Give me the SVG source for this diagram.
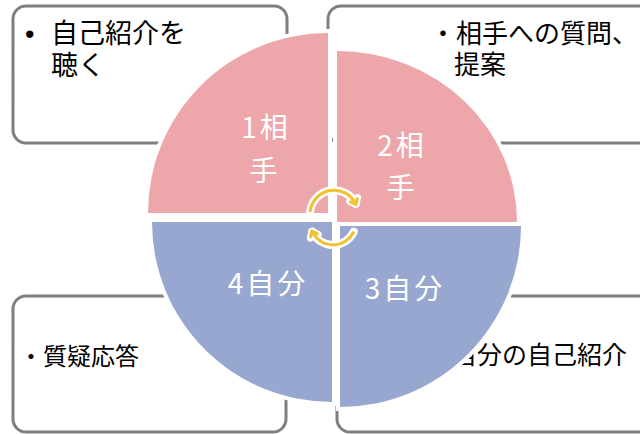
<svg xmlns="http://www.w3.org/2000/svg" width="640" height="434" viewBox="0 0 640 434">
<style>
.box{fill:#fff;stroke:#7f7f7f;stroke-width:3}
.bt{font-family:"Liberation Sans","Noto Sans CJK JP",sans-serif;fill:#000}
.qt{font-family:"Noto Sans CJK JP","Noto Sans",sans-serif;fill:#fff;font-size:28px;letter-spacing:3px;text-anchor:middle}
.pink{fill:#eda7aa;stroke:#fff;stroke-width:8;paint-order:stroke}
.blue{fill:#97a7cf;stroke:#fff;stroke-width:8;paint-order:stroke}
.halo{fill:none;stroke:#fff;stroke-width:8;stroke-linecap:round}
.arc{fill:none;stroke:#f2c12e;stroke-width:3}
</style>
<defs>
<marker id="ah" markerUnits="userSpaceOnUse" viewBox="0 0 12 12" refX="7" refY="6" markerWidth="12" markerHeight="12" orient="auto">
<path d="M2,1.5 L7.5,6 L2,10.5" fill="none" stroke="#f2c12e" stroke-width="3"/>
</marker>
<marker id="ahh" markerUnits="userSpaceOnUse" viewBox="0 0 16 16" refX="9" refY="8" markerWidth="16" markerHeight="16" orient="auto">
<path d="M4,3.5 L9.5,8 L4,12.5" fill="none" stroke="#fff" stroke-width="7" stroke-linejoin="round" stroke-linecap="round"/>
</marker>
</defs>
<rect x="0" y="0" width="640" height="434" fill="#fff"/>
<g id="box-tl">
<rect class="box" x="13" y="6" width="274" height="137" rx="13"/>
<text class="bt" font-size="27"><tspan x="25" y="43">•</tspan><tspan x="51" y="43">自己紹介を</tspan><tspan x="51" y="75">聴く</tspan></text>
</g>
<g id="box-tr">
<rect class="box" x="328" y="6" width="330" height="137" rx="13"/>
<text class="bt" font-size="26"><tspan x="430" y="43">・相手への質問、</tspan><tspan x="454" y="74">提案</tspan></text>
</g>
<g id="box-bl">
<rect class="box" x="13" y="296" width="273" height="136" rx="13"/>
<text class="bt" x="19" y="365" font-size="24">・質疑応答</text>
</g>
<g id="box-br">
<rect class="box" x="337" y="296" width="330" height="136" rx="13"/>
<text class="bt" x="452" y="364" font-size="25">自分の自己紹介</text>
</g>
<g id="q1">
<path class="pink" d="M328,213 L148,213 A180,180 0 0 1 328,33 Z"/>
<text class="qt"><tspan x="266" y="138">1相</tspan><tspan x="265" y="181">手</tspan></text>
</g>
<g id="q2">
<path class="pink" d="M337,222 L337,51 A180,171 0 0 1 517,222 Z"/>
<text class="qt"><tspan x="402" y="156">2相</tspan><tspan x="402" y="198">手</tspan></text>
</g>
<g id="q4">
<path class="blue" d="M332,222 L332,402 A180,180 0 0 1 152,222 Z"/>
<text class="qt" x="268" y="294">4自分</text>
</g>
<g id="q3">
<path class="blue" d="M340,226 L521,226 A181,181 0 0 1 340,407 Z"/>
<text class="qt" x="405" y="299">3自分</text>
</g>
<g id="connectors">
<path class="halo" d="M310.1,212 A24,24 0 0 1 355.7,203.9" marker-end="url(#ahh)"/>
<path class="arc" d="M310.1,212 A24,24 0 0 1 355.7,203.9" marker-end="url(#ah)"/>
<path class="halo" d="M353.8,231.7 A23,23 0 0 1 312.2,231.7" marker-end="url(#ahh)"/>
<path class="arc" d="M353.8,231.7 A23,23 0 0 1 312.2,231.7" marker-end="url(#ah)"/>
</g>
</svg>
